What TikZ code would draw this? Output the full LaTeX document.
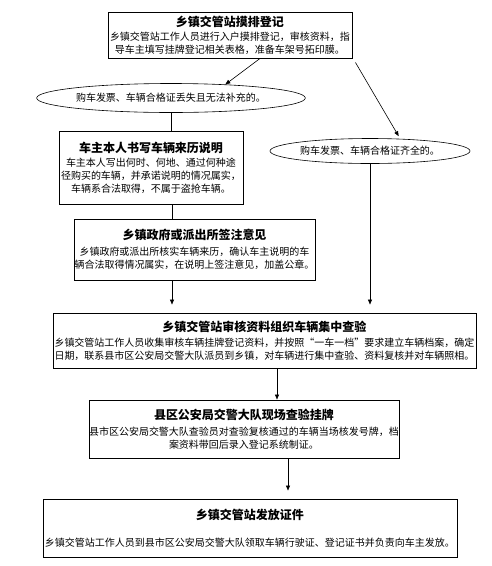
\documentclass[tikz,border=0pt]{standalone}
\usepackage{fontspec}
\setmainfont{Noto Sans CJK SC}
\usetikzlibrary{arrows.meta,shapes.geometric}

\tikzset{
  stagebox/.style={draw,line width=0.9pt,align=center,inner sep=0pt,font=\fontsize{10}{13}\selectfont},
  casebubble/.style={draw,ellipse,line width=0.6pt,inner sep=0pt,font=\fontsize{10}{12}\selectfont},
  flowline/.style={line width=0.6pt},
  flowarrow/.style={flowline,-{Triangle[length=5pt,width=4pt]}},
}
\newcommand{\stagetitle}[1]{{\fontsize{12}{14}\selectfont\bfseries #1}}

\begin{document}
\begin{tikzpicture}[x=1pt,y=1pt,yscale=-1,xscale=1]
\useasboundingbox (0,0) rectangle (492,566);

% Text Node
\node [stagebox,minimum width=244,minimum height=46] (paihu) at (230,35)
  {\stagetitle{乡镇交管站摸排登记}\\[1pt]
   乡镇交管站工作人员进行入户摸排登记，审核资料，指\\
   导车主填写挂牌登记相关表格，准备车架号拓印膜。};
% Ellipse
\node [casebubble,minimum width=268,minimum height=29] (diushi) at (171,98)
  {购车发票、车辆合格证丢失且无法补充的。};
% Ellipse
\node [casebubble,minimum width=200,minimum height=25] (qiquan) at (370,151)
  {购车发票、车辆合格证齐全的。};
% Text Node
\node [stagebox,minimum width=184,minimum height=73] (shuoming) at (151,167.5)
  {\stagetitle{车主本人书写车辆来历说明}\\[1pt]
   车主本人写出何时、何地、通过何种途\\
   径购买的车辆，并承诺说明的情况属实，\\
   车辆系合法取得，不属于盗抢车辆。};
% Text Node
\node [stagebox,minimum width=241,minimum height=61] (qianzhu) at (194.5,249.5)
  {\stagetitle{乡镇政府或派出所签注意见}\\[3pt]
   乡镇政府或派出所核实车辆来历，确认车主说明的车\\
   辆合法取得情况属实，在说明上签注意见，加盖公章。};
% Text Node
\node [stagebox,minimum width=423,minimum height=55] (chayan) at (264.5,340.5)
  {\stagetitle{乡镇交管站审核资料组织车辆集中查验}\\[2pt]
   乡镇交管站工作人员收集审核车辆挂牌登记资料，并按照“一车一档”要求建立车辆档案，确定\\
   日期，联系县市区公安局交警大队派员到乡镇，对车辆进行集中查验、资料复核并对车辆照相。};
% Text Node
\node [stagebox,minimum width=309,minimum height=58] (guapai) at (244,429)
  {\stagetitle{县区公安局交警大队现场查验挂牌}\\[3pt]
   县市区公安局交警大队查验员对查验复核通过的车辆当场核发号牌，档\\
   案资料带回后录入登记系统制证。};
% Text Node
\node [stagebox,minimum width=414,minimum height=58] (fafang) at (250,528)
  {\stagetitle{乡镇交管站发放证件}\\[14pt]
   乡镇交管站工作人员到县市区公安局交警大队领取车辆行驶证、登记证书并负责向车主发放。};

% Straight Lines
\draw [flowarrow] ([xshift=30]paihu.south) -- (diushi.14);
\draw [flowarrow,shorten >=3] ([xshift=3,yshift=4]paihu.south east) -- (qiquan.22);
\draw [flowline] (diushi.south) -- (diushi.south |- shuoming.north);
\draw [flowline] ([xshift=21]shuoming.south) -- ([xshift=21]shuoming.south |- qianzhu.north);
\draw [flowarrow,shorten >=8] (qianzhu.south -| 172,0) -- (chayan.north -| 172,0);
\draw [flowarrow,shorten >=8] (qiquan.south) -- (qiquan.south |- chayan.north);
\draw [flowarrow] (chayan.south -| 277,0) -- (guapai.north -| 277,0);
\draw [flowarrow,shorten >=8] (guapai.south -| 288,0) -- (fafang.north -| 288,0);

\end{tikzpicture}
\end{document}
